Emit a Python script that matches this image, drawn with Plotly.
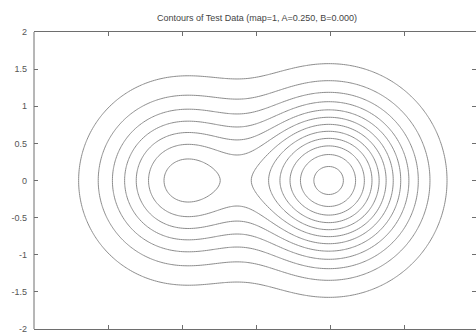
import numpy as np
import plotly.graph_objects as go

# Test surface: two Gaussian bumps on the x axis
bump_x = [1.0, -1.0]
bump_y = [0.0, 0.0]
bump_amp = [1.0, 0.6]
bump_sx = [1.0, 1.0]
bump_sy = [1.0, 1.0]

# Contour levels (12 evenly spaced values)
level_start = 0.085
level_step = 0.081
level_count = 12

x_ticks = [-3, -2, -1, 0, 1, 2, 3]
y_ticks = [-2, -1.5, -1, -0.5, 0, 0.5, 1, 1.5, 2]

xs = np.linspace(-3, 3, 241)
ys = np.linspace(-2, 2, 161)
XX, YY = np.meshgrid(xs, ys)
Z = np.zeros_like(XX)
for cx, cy, a, sx, sy in zip(bump_x, bump_y, bump_amp, bump_sx, bump_sy):
    Z += a * np.exp(-((XX - cx) / sx) ** 2 - ((YY - cy) / sy) ** 2)

fig = go.Figure()
fig.add_trace(go.Contour(
    x=xs, y=ys, z=Z,
    contours=dict(start=level_start, end=level_start + level_step * (level_count - 0.5),
                  size=level_step, coloring="none"),
    line=dict(color="#8c8c8c", width=1, smoothing=1),
    showscale=False, hoverinfo="skip",
))

axis_col = "#6e6e6e"
font = dict(family="Liberation Sans, Arial, sans-serif", size=9, color="#555555")

fig.update_layout(
    width=476, height=336,
    margin=dict(l=34, r=0, t=32, b=7),
    paper_bgcolor="white", plot_bgcolor="white",
    showlegend=False,
    font=font,
    title=dict(text="Contours of Test Data (map=1, A=0.250, B=0.000)",
               x=257 / 476, xanchor="center", y=1 - 18 / 336, yanchor="middle",
               font=dict(family="Liberation Sans, Arial, sans-serif", size=9, color="#444444")),
    shapes=[dict(type="line", xref="paper", yref="paper", x0=0, x1=0, y0=0, y1=1,
                 line=dict(color=axis_col, width=1))],
)
fig.update_xaxes(range=[-3, 2.961], tickvals=x_ticks, ticks="inside", ticklen=4,
                 tickcolor=axis_col, showline=True, linecolor=axis_col, linewidth=1,
                 mirror="ticks", showgrid=False, zeroline=False, automargin=False,
                 ticklabelstandoff=2, fixedrange=True)
fig.update_yaxes(range=[-2, 2], tickvals=y_ticks, ticktext=[f"{v:g}" for v in y_ticks],
                 ticks="inside", ticklen=4, tickcolor=axis_col, showline=False,
                 mirror="ticks", showgrid=False, zeroline=False, automargin=False,
                 ticklabelstandoff=6, fixedrange=True)

fig.write_html("out.html")
